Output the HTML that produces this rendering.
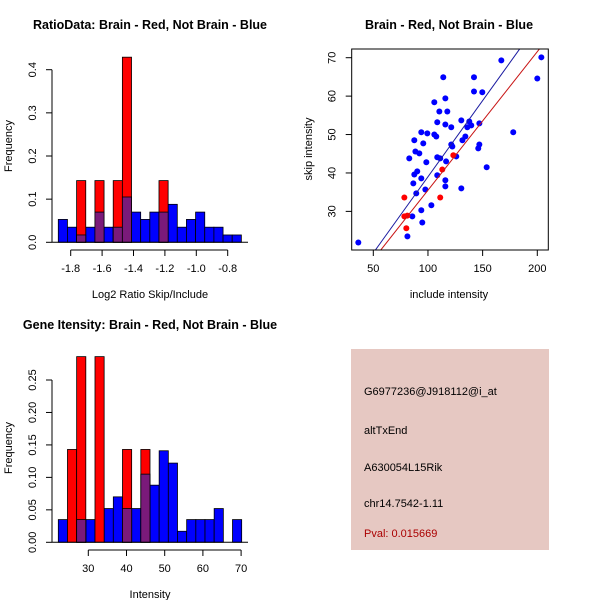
<!DOCTYPE html>
<html><head><meta charset="utf-8"><style>
body{margin:0;background:#fff}
svg{display:block;font-family:"Liberation Sans",sans-serif}
</style></head><body>
<svg id="chart" width="600" height="600" viewBox="0 0 600 600"></svg>
<script>
// ---- data: ratio histogram ----
const ratioBinStart = -1.879, ratioBinWidth = 0.0583;
const ratioBlue = [0.053,0.035,0.017,0.035,0.07,0.035,0.035,0.105,0.07,0.053,0.07,0.07,0.088,0.035,0.053,0.07,0.035,0.035,0.017,0.017];
const ratioRed  = [0,0,0.143,0,0.143,0,0.143,0.429,0,0,0,0.143,0,0,0,0,0,0,0,0];
const ratioXTicks = [-1.8,-1.6,-1.4,-1.2,-1.0,-0.8];
const ratioYTicks = [0,0.1,0.2,0.3,0.4];
// ---- data: intensity histogram ----
const intBinStart = 22.15, intBinWidth = 2.4;
const intBlue = [0.035,0,0.035,0.035,0,0.052,0.07,0.052,0.052,0.105,0.088,0.141,0.122,0.017,0.035,0.035,0.035,0.052,0,0.035];
const intRed  = [0,0.143,0.286,0,0.286,0,0,0.143,0,0.143,0,0,0,0,0,0,0,0,0,0];
const intXTicks = [30,40,50,60,70];
const intYTicks = [0,0.05,0.10,0.15,0.20,0.25];
// ---- data: scatter ----
const blueX = [36.3,167.1,203.7,200,178,153.7,114,142.1,142.1,149.7,105.8,115.9,110.4,117.7,108.5,115.9,121.3,130.5,137.8,139.6,136,147,93.9,99.4,105.8,107.6,87.5,134.2,131.5,95.7,121.3,122.3,147,146,88.5,92.1,82.9,108.5,111.2,125.9,116.6,98.5,90.2,87.5,108.5,93.9,115.9,86.6,115.9,130.5,97.6,89.3,103.1,93.9,85.7,94.8,81.2];
const blueY = [21.9,69.3,70.1,64.6,50.6,41.5,64.9,64.9,61.2,61.0,58.4,59.4,56.0,56.0,53.2,52.6,51.9,53.7,53.4,52.4,51.9,52.9,50.6,50.3,50.0,49.5,48.5,49.5,48.5,47.7,47.4,46.9,47.4,46.4,45.6,45.1,43.8,44.1,43.8,44.3,43.0,42.8,40.4,39.6,39.4,38.6,38.1,37.3,36.5,36.0,35.7,34.7,31.6,30.3,28.7,27.1,23.5];
const redX = [78.4,111.2,113.1,123.2,78.4,81.1,80.2];
const redY = [33.6,33.6,40.9,44.6,28.7,28.9,25.6];
const blueFit = [-0.64,0.3965]; // intercept, slope
const redFit = [-0.55,0.3606];
const scXTicks = [50,100,150,200];
const scYTicks = [30,40,50,60,70];

const svg = document.getElementById('chart');
const NS='http://www.w3.org/2000/svg';
function mk(tag, attrs, parent){const e=document.createElementNS(NS,tag);for(const k in attrs)e.setAttribute(k,attrs[k]);(parent||svg).appendChild(e);return e;}
function txt(s, x, y, opts, parent){const t=mk('text',Object.assign({x:x,y:y,'font-size':11,'text-anchor':'middle',fill:'#000'},opts||{}),parent);t.textContent=s;return t;}

function hist(cfg){
  const g=mk('g',{});
  
  
  const sx=v=>cfg.x0px+(v-cfg.xv0)*cfg.xs;
  const sy=v=>cfg.y0px-v*cfg.ys;
  const n=cfg.blue.length;
  for(let i=0;i<n;i++){
    const a=cfg.binStart+i*cfg.binWidth, b=a+cfg.binWidth;
    const x=sx(a), w=sx(b)-sx(a);
    if(cfg.blue[i]>0){const r=mk('rect',{x:x,y:sy(cfg.blue[i]),width:w,height:sy(0)-sy(cfg.blue[i]),fill:'#0000ff',stroke:'#000','stroke-width':0.8},g);
      
      }
  }
  for(let i=0;i<n;i++){
    const a=cfg.binStart+i*cfg.binWidth, b=a+cfg.binWidth;
    const x=sx(a), w=sx(b)-sx(a);
    if(cfg.red[i]>0){const r=mk('rect',{x:x,y:sy(cfg.red[i]),width:w,height:sy(0)-sy(cfg.red[i]),fill:'#ff0000',stroke:'#000','stroke-width':0.8},g);
      
      
      const m=Math.min(cfg.red[i],cfg.blue[i]);
      if(m>0){const p=mk('rect',{x:x,y:sy(m),width:w,height:sy(0)-sy(m),fill:'#7a1a7a',stroke:'#000','stroke-width':0.8},g);
        
        }
    }
  }
  const yt=cfg.yTicks;
  mk('line',{x1:cfg.yAxisX,x2:cfg.yAxisX,y1:sy(yt[0]),y2:sy(yt[yt.length-1]),stroke:'#000'},g);
  yt.forEach(v=>{const y=sy(v);mk('line',{x1:cfg.yAxisX-6,x2:cfg.yAxisX,y1:y,y2:y,stroke:'#000'},g);
    const lx=cfg.yAxisX-16;
    const t=txt(cfg.yFmt(v),lx,y,{transform:`rotate(-90 ${lx} ${y})`},g);
    
    });
  const xt=cfg.xTicks;
  mk('line',{x1:sx(xt[0]),x2:sx(xt[xt.length-1]),y1:cfg.xAxisY,y2:cfg.xAxisY,stroke:'#000'},g);
  xt.forEach(v=>{const x=sx(v);mk('line',{x1:x,x2:x,y1:cfg.xAxisY,y2:cfg.xAxisY+6,stroke:'#000'},g);
    const t=txt(cfg.xFmt(v),x,cfg.xAxisY+22,{},g);
    
    });
  mk('line',{x1:cfg.baseX1,x2:cfg.baseX2,y1:sy(0),y2:sy(0),stroke:'#000'},g);
}

hist({name:'ratio-histogram',blue:ratioBlue,red:ratioRed,binStart:ratioBinStart,binWidth:ratioBinWidth,
  x0px:70.7,xv0:-1.8,xs:157,y0px:242.3,ys:431.5,xTicks:ratioXTicks,yTicks:ratioYTicks,
  yAxisX:52,xAxisY:250,baseX1:52,baseX2:248,xFmt:v=>v.toFixed(1),yFmt:v=>v.toFixed(1)});
hist({name:'intensity-histogram',blue:intBlue,red:intRed,binStart:intBinStart,binWidth:intBinWidth,
  x0px:88.3,xv0:30,xs:3.82,y0px:542.3,ys:649.2,xTicks:intXTicks,yTicks:intYTicks,
  yAxisX:52,xAxisY:550,baseX1:52,baseX2:248,xFmt:v=>String(v),yFmt:v=>v.toFixed(2)});

function lab(s,x,y,opts,name){const t=txt(s,x,y,opts);}
lab('RatioData: Brain - Red, Not Brain - Blue',150,29,{'font-weight':'bold','font-size':12.5},'ratio-title');
lab('Log2 Ratio Skip/Include',150,298,{},'ratio-x-title');
lab('Frequency',12,146,{transform:'rotate(-90 12 146)'},'ratio-y-title');
lab('Gene Itensity: Brain - Red, Not Brain - Blue',150,329,{'font-weight':'bold','font-size':12.5},'intensity-title');
lab('Intensity',150,598,{},'intensity-x-title');
lab('Frequency',12,448,{transform:'rotate(-90 12 448)'},'intensity-y-title');
lab('Brain - Red, Not Brain - Blue',449,29,{'font-weight':'bold','font-size':12.5},'scatter-title');
lab('include intensity',449,298,{},'scatter-x-title');
lab('skip intensity',312,149,{transform:'rotate(-90 312 149)'},'scatter-y-title');

(function(){
  const g=mk('g',{});
  
  
  const L=351.7,R=548.3,T=49,B=250;
  const sx=v=>373.3+(v-50)*1.0933;
  const sy=v=>57.7+(70-v)*3.842;
  const defs=mk('defs',{},g);
  const cp=mk('clipPath',{id:'scclip'},defs);
  mk('rect',{x:L,y:T,width:R-L,height:B-T},cp);
  blueX.forEach((x,i)=>{const c=mk('circle',{cx:sx(x),cy:sy(blueY[i]),r:3,fill:'#0000ff'},g);
    
    });
  redX.forEach((x,i)=>{const c=mk('circle',{cx:sx(x),cy:sy(redY[i]),r:3,fill:'#ff0000'},g);
    
    });
  [[blueFit,'#1a1aa0','blue-fit-line'],[redFit,'#c81414','red-fit-line']].forEach(([f,col,nm])=>{
    const x1=0,x2=260;
    const l=mk('line',{x1:sx(x1),y1:sy(f[0]+f[1]*x1),x2:sx(x2),y2:sy(f[0]+f[1]*x2),stroke:col,'stroke-width':1,'clip-path':'url(#scclip)'},g);
    
    });
  mk('rect',{x:L,y:T,width:R-L,height:B-T,fill:'none',stroke:'#000'},g);
  scXTicks.forEach(v=>{const x=sx(v);mk('line',{x1:x,x2:x,y1:B,y2:B+6,stroke:'#000'},g);
    const t=txt(String(v),x,B+22,{},g);
    
    });
  scYTicks.forEach(v=>{const y=sy(v);mk('line',{x1:L-6,x2:L,y1:y,y2:y,stroke:'#000'},g);
    const lx=L-16;
    const t=txt(String(v),lx,y,{transform:`rotate(-90 ${lx} ${y})`},g);
    
    });
})();

(function(){
  const g=mk('g',{});
  
  
  mk('rect',{x:351,y:349,width:198,height:201,fill:'#e6c8c2'},g);
  const lines=[['G6977236@J918112@i_at',395,'#000','probe-id'],['altTxEnd',434,'#000','event-type'],['A630054L15Rik',471,'#000','gene-name'],['chr14.7542-1.11',507,'#000','location'],['Pval: 0.015669',537,'#aa0000','p-value']];
  lines.forEach(([s,y,c,n])=>{const t=txt(s,364,y,{'text-anchor':'start',fill:c},g);
    
    });
})();
</script>
</body></html>
